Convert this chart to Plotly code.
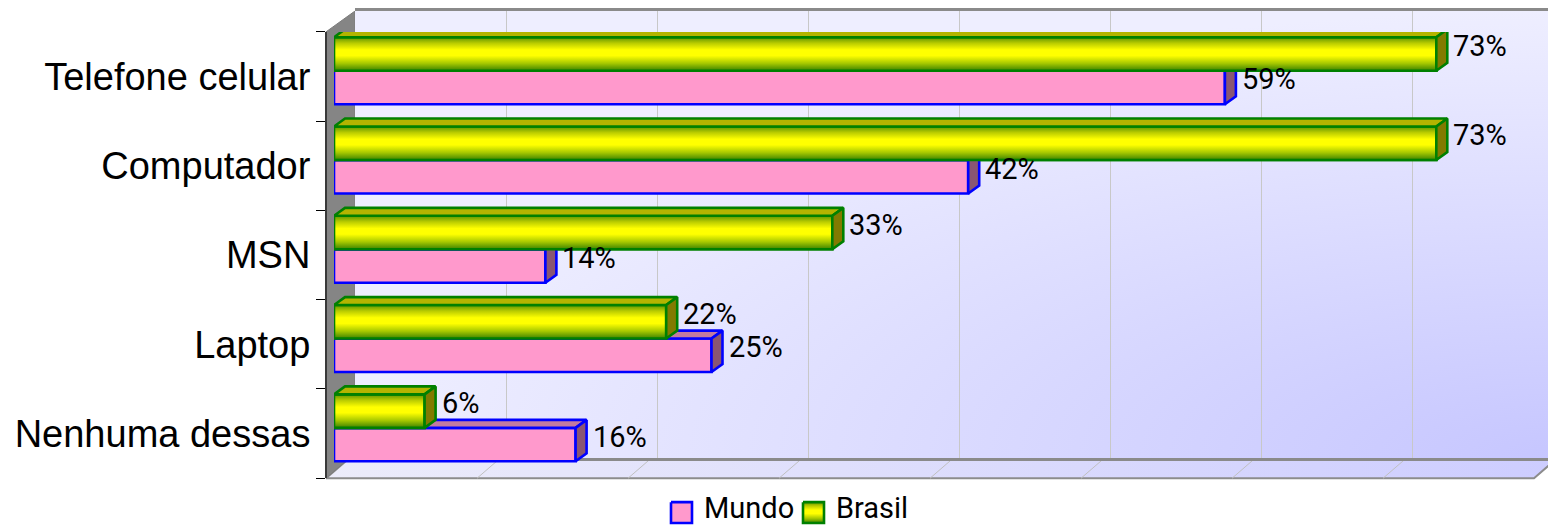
import plotly.graph_objects as go

# ---------------- data ----------------
categories = ["Telefone celular", "Computador", "MSN", "Laptop", "Nenhuma dessas"]
mundo = [59, 42, 14, 25, 16]
brasil = [73, 73, 33, 22, 6]
series_names = ["Mundo", "Brasil"]
grid_values = [10, 20, 30, 40, 50, 60, 70]
axis_max = 80

# ---------------- geometry (page pixels) ----------------
W, H = 1556, 525           # browser window
OFF = 8                    # default body margin of the html page
FW, FH = W - OFF, H - OFF  # figure size
PPP = 15.1                 # pixels per percentage point
BAR_X0 = 334               # x pixel of 0 % on the bars' plane
WALL_X0 = 355              # x pixel of 0 % on the back wall
FLOOR_X0 = 326             # x pixel of 0 % on the front edge of the floor
BAND_TOP, BAND_BOT = 29, 478
WALL_TOP, WALL_BOT = 8, 458
FLOOR_DX = 23
BAR_DX_PX, BAR_DY_PX = 11, 8

LABEL_FONT = "Liberation Sans, Arial, Helvetica, sans-serif"
NARROW_FONT = "Roboto, Liberation Sans Narrow, Arial Narrow, sans-serif"

PINK, BLUE = "#FF99CC", "#0000FF"
PINK_TOP, PINK_SIDE = "#C27BA0", "#8A5672"
YEL, GREEN = "#FFFF00", "#008000"
YEL_TOP, YEL_SIDE = "#B4B400", "#827A00"
YEL_SCALE = [[0, "#3C8200"], [0.22, "#A6C800"], [0.45, "#FFFF00"], [0.62, "#FFFF00"],
             [0.82, "#BACC00"], [1, "#5E9400"]]
EDGE = 2.6


def fx(p):
    return (p - OFF) / FW


def fy(p):
    return (H - p) / FH


n = len(categories)
idx = list(range(n))
band_px = (BAND_BOT - BAND_TOP) / n
B_OFF, M_OFF, BW = -0.44, -0.065, 0.375
dx = BAR_DX_PX / PPP
dy = BAR_DY_PX / band_px

fig = go.Figure()
frame = dict(xaxis="x", yaxis="y", hoverinfo="skip", showlegend=False)

# ---------- subplot 1: frame (page pixel coordinates) ----------
floor_right = FLOOR_X0 + axis_max * PPP
fig.add_trace(go.Scatter(
    x=[FLOOR_X0, floor_right, floor_right + FLOOR_DX, FLOOR_X0 + FLOOR_DX, FLOOR_X0],
    y=[BAND_BOT, BAND_BOT, WALL_BOT, WALL_BOT, BAND_BOT],
    mode="lines", fill="toself",
    fillgradient=dict(type="horizontal", colorscale=[[0, "#ECECFA"], [1, "#CDCDFF"]]),
    line=dict(color="#8C8C8C", width=2), **frame))
fx_l, fy_l = [], []
for t in grid_values:
    fx_l += [FLOOR_X0 + t * PPP, FLOOR_X0 + t * PPP + FLOOR_DX, None]
    fy_l += [BAND_BOT, WALL_BOT, None]
fig.add_trace(go.Scatter(x=fx_l, y=fy_l, mode="lines",
                         line=dict(color="#C0C0C0", width=1), **frame))
fig.add_trace(go.Scatter(
    x=[FLOOR_X0, WALL_X0, WALL_X0, FLOOR_X0 + FLOOR_DX, FLOOR_X0, FLOOR_X0],
    y=[BAND_TOP, WALL_TOP, WALL_BOT, WALL_BOT, BAND_BOT, BAND_TOP],
    mode="lines", fill="toself", fillcolor="#858585",
    line=dict(color="#7A7A7A", width=1), **frame))
# legend boxes
lx = [671, 803]
LY0, LY1 = 502, 523
fig.add_trace(go.Scatter(x=[lx[0], lx[0] + 21, lx[0] + 21, lx[0], lx[0]],
                         y=[LY0, LY0, LY1, LY1, LY0], mode="lines", fill="toself",
                         fillcolor=PINK, line=dict(color=BLUE, width=EDGE), **frame))
fig.add_trace(go.Scatter(x=[lx[1], lx[1] + 21, lx[1] + 21, lx[1], lx[1]],
                         y=[LY0, LY0, LY1, LY1, LY0], mode="lines", fill="toself",
                         fillgradient=dict(type="vertical", colorscale=YEL_SCALE),
                         line=dict(color=GREEN, width=EDGE), **frame))

# ---------- subplot 2: back wall gradient ----------
fig.add_trace(go.Scatter(x=[0, 2, 2, 0, 0], y=[-1, -1, 1, 1, -1], mode="lines",
                         fill="toself", line=dict(width=0),
                         fillgradient=dict(type="radial",
                                           colorscale=[[0, "#C6C6FF"], [0.55, "#DCDCFF"], [1, "#EEEEFF"]]),
                         xaxis="x2", yaxis="y2", hoverinfo="skip", showlegend=False))

# ---------- subplot 3: wall gridlines ----------
fig.add_trace(go.Scatter(x=[None], y=[None], xaxis="x3", yaxis="y3",
                         hoverinfo="skip", showlegend=False))

# ---------- subplot 4: bars ----------
fig.add_trace(go.Bar(name=series_names[0], x=mundo, y=idx, orientation="h",
                     offset=M_OFF, width=BW, xaxis="x4", yaxis="y4",
                     marker=dict(color=PINK, line=dict(color=BLUE, width=EDGE)),
                     showlegend=False))
fig.add_trace(go.Bar(name=series_names[1], x=brasil, y=idx, orientation="h",
                     offset=B_OFF, width=BW, xaxis="x4", yaxis="y4",
                     marker=dict(color=YEL, line=dict(color=GREEN, width=EDGE)),
                     showlegend=False))

bars = dict(xaxis="x4", yaxis="y4", mode="lines", fill="toself",
            hoverinfo="skip", showlegend=False)


def top_face(vals, off):
    xs, ys = [], []
    for i, v in zip(idx, vals):
        t = i + off
        xs += [0, v, v + dx, dx, 0, None]
        ys += [t, t, t - dy, t - dy, t, None]
    return xs, ys


def side_face(vals, off):
    xs, ys = [], []
    for i, v in zip(idx, vals):
        t, b = i + off, i + off + BW
        xs += [v, v + dx, v + dx, v, v, None]
        ys += [t, t - dy, b - dy, b, t, None]
    return xs, ys


x_, y_ = top_face(mundo, M_OFF)
fig.add_trace(go.Scatter(x=x_, y=y_, fillcolor=PINK_TOP, line=dict(color=BLUE, width=EDGE), **bars))
x_, y_ = side_face(mundo, M_OFF)
fig.add_trace(go.Scatter(x=x_, y=y_, fillcolor=PINK_SIDE, line=dict(color=BLUE, width=EDGE), **bars))
for i, v in zip(idx, brasil):
    t, b = i + B_OFF, i + B_OFF + BW
    fig.add_trace(go.Scatter(x=[0, v, v, 0, 0], y=[t, t, b, b, t],
                             fillgradient=dict(type="vertical", colorscale=YEL_SCALE),
                             line=dict(color=GREEN, width=EDGE), **bars))
x_, y_ = top_face(brasil, B_OFF)
fig.add_trace(go.Scatter(x=x_, y=y_, fillcolor=YEL_TOP, line=dict(color=GREEN, width=EDGE), **bars))
x_, y_ = side_face(brasil, B_OFF)
fig.add_trace(go.Scatter(x=x_, y=y_, fillcolor=YEL_SIDE, line=dict(color=GREEN, width=EDGE), **bars))

# value labels
annotations = []
for vals, off in ((brasil, B_OFF), (mundo, M_OFF)):
    for i, v in zip(idx, vals):
        annotations.append(dict(x=v, y=i + off + BW / 2, xref="x4", yref="y4",
                                text=f"{v}%", showarrow=False, xanchor="left",
                                yanchor="middle", xshift=BAR_DX_PX + 4, yshift=8,
                                font=dict(family=NARROW_FONT, size=29, color="black")))
# legend texts
for name, x0 in zip(series_names, lx):
    annotations.append(dict(x=fx(x0 + 31), y=fy(508), xref="paper", yref="paper",
                            text=name, showarrow=False, xanchor="left", yanchor="middle",
                            font=dict(family=NARROW_FONT, size=29, color="black")))

hidden = dict(visible=False, fixedrange=True)
wall_dom_x = [fx(WALL_X0), 1]
wall_dom_y = [fy(WALL_BOT), fy(WALL_TOP)]

fig.update_layout(
    width=FW, height=FH,
    margin=dict(l=0, r=0, t=0, b=0),
    paper_bgcolor="white", plot_bgcolor="rgba(0,0,0,0)",
    barmode="overlay", showlegend=False,
    annotations=annotations,
    xaxis=dict(domain=[0, 1], range=[OFF, W], anchor="y", **hidden),
    yaxis=dict(domain=[0, 1], range=[H, OFF], anchor="x", **hidden),
    xaxis2=dict(domain=wall_dom_x, range=[0, 1], anchor="y2", showline=True, mirror=True,
                linecolor="#8A8A8A", linewidth=3, showgrid=False, zeroline=False,
                showticklabels=False, ticks="", fixedrange=True),
    yaxis2=dict(domain=wall_dom_y, range=[0, 1], anchor="x2", **hidden),
    xaxis3=dict(domain=wall_dom_x, range=[0, (W - WALL_X0) / PPP], anchor="y3",
                tickmode="array", tickvals=grid_values, showgrid=True,
                gridcolor="#C8C8C8", gridwidth=1, zeroline=False, showline=False,
                showticklabels=False, ticks="", fixedrange=True),
    yaxis3=dict(domain=wall_dom_y, range=[0, 1], anchor="x3", **hidden),
    xaxis4=dict(domain=[fx(BAR_X0), 1], range=[0, (W - BAR_X0) / PPP], anchor="y4",
                **hidden),
    yaxis4=dict(domain=[fy(BAND_BOT), fy(BAND_TOP)], range=[n - 0.5, -0.5],
                anchor="free", position=fx(FLOOR_X0),
                tickmode="array", tickvals=idx, ticktext=categories, ticks="",
                minor=dict(tickmode="array", tickvals=[i - 0.5 for i in range(n + 1)],
                           ticks="outside", ticklen=9, tickcolor="black", tickwidth=1),
                showline=True, linecolor="#3A3A3A", linewidth=2,
                showgrid=False, zeroline=False, ticklabelstandoff=7,
                tickfont=dict(family=LABEL_FONT, size=38, color="black"),
                fixedrange=True),
)

fig.write_html("out.html")
